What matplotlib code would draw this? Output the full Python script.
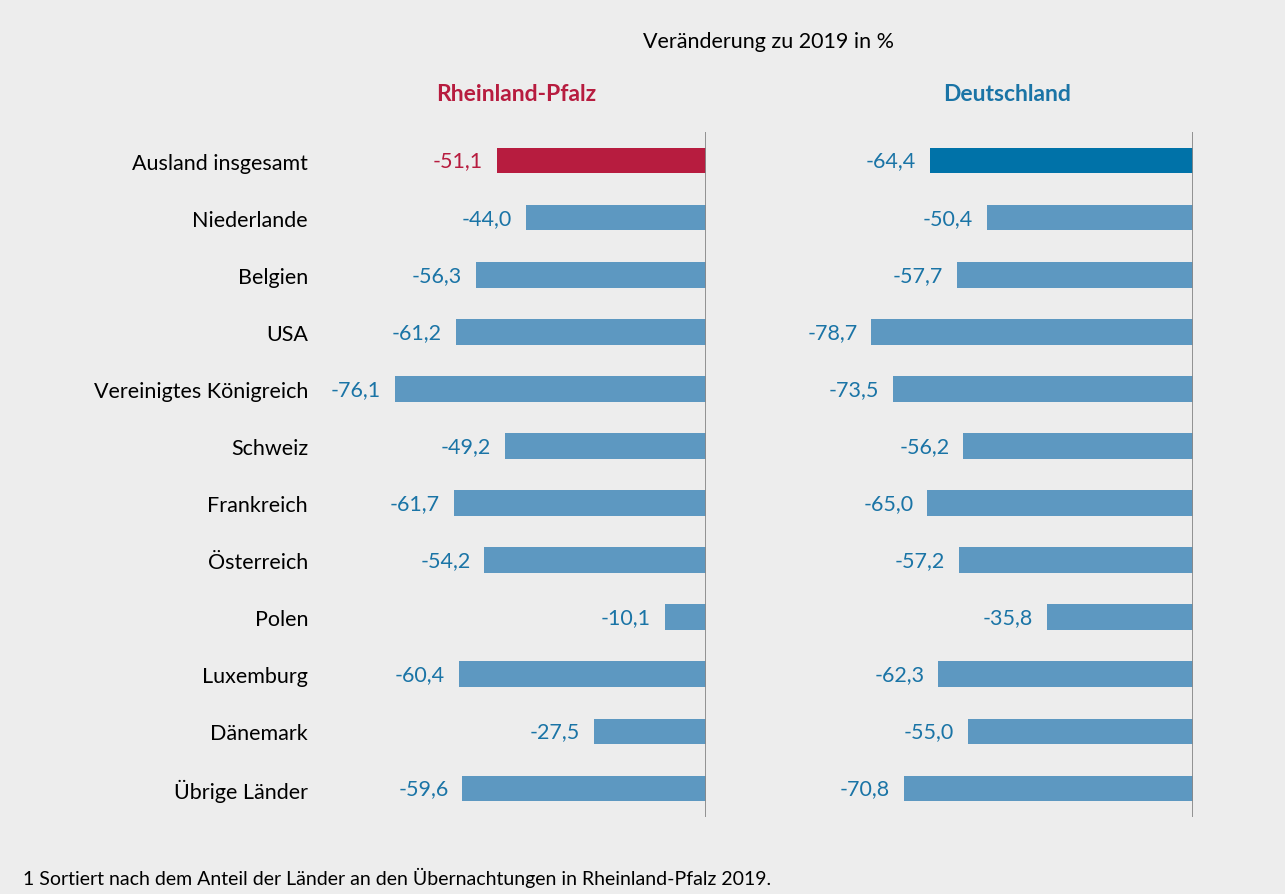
import matplotlib.pyplot as plt

# Data
laender = ['Ausland insgesamt', 'Niederlande', 'Belgien', 'USA', 'Vereinigtes Königreich',
           'Schweiz', 'Frankreich', 'Österreich', 'Polen', 'Luxemburg', 'Dänemark', 'Übrige Länder']
rlp = [-51.1, -44.0, -56.3, -61.2, -76.1, -49.2, -61.7, -54.2, -10.1, -60.4, -27.5, -59.6]
de = [-64.4, -50.4, -57.7, -78.7, -73.5, -56.2, -65.0, -57.2, -35.8, -62.3, -55.0, -70.8]

bg = '#ededed'
red = '#b71c3f'
darkblue = '#0072a8'
lightblue = '#5d98c1'
textblue = '#1a74a6'

plt.rcParams['font.family'] = ['Lato', 'DejaVu Sans']

fig = plt.figure(figsize=(12.85, 8.95), dpi=100)
fig.patch.set_facecolor(bg)

ax1 = fig.add_axes([0.2949, 0.086, 0.2545, 0.7654])
ax2 = fig.add_axes([0.6739, 0.086, 0.2545, 0.7654])

def fmt(v):
    return f'{v:.1f}'.replace('.', ',')

for ax, vals, first_color, first_text in [(ax1, rlp, red, red), (ax2, de, darkblue, textblue)]:
    ax.set_facecolor(bg)
    colors = [first_color] + [lightblue] * (len(vals) - 1)
    y = range(len(vals))
    ax.barh(y, vals, height=0.45, color=colors)
    for i, v in enumerate(vals):
        ax.annotate(fmt(v), xy=(v, i), xytext=(-10, 0), textcoords='offset points',
                    ha='right', va='center', fontsize=15.5,
                    color=first_text if i == 0 else textblue, annotation_clip=False)
    ax.axvline(0, color='#888888', lw=2)
    ax.set_xlim(-80, 0)
    ax.set_ylim(len(vals) - 0.5, -0.5)
    ax.set_xticks([])
    ax.set_yticks([])
    for s in ax.spines.values():
        s.set_visible(False)

ax1.set_yticks(range(len(laender)))
ax1.set_yticklabels(laender, fontsize=15.5)
ax1.tick_params(axis='y', length=0, pad=51)

fig.text(0.598, 0.953, 'Veränderung zu 2019 in %', ha='center', va='center', fontsize=15.5)
fig.text(0.402, 0.894, 'Rheinland-Pfalz', ha='center', va='center', fontsize=16.5,
         fontweight='bold', color=red)
fig.text(0.784, 0.894, 'Deutschland', ha='center', va='center', fontsize=16.5,
         fontweight='bold', color=textblue)
fig.text(0.018, 0.019, '1 Sortiert nach dem Anteil der Länder an den Übernachtungen in Rheinland-Pfalz 2019.',
         ha='left', va='center', fontsize=14)

fig.savefig('out.png', dpi=100, facecolor=bg)
